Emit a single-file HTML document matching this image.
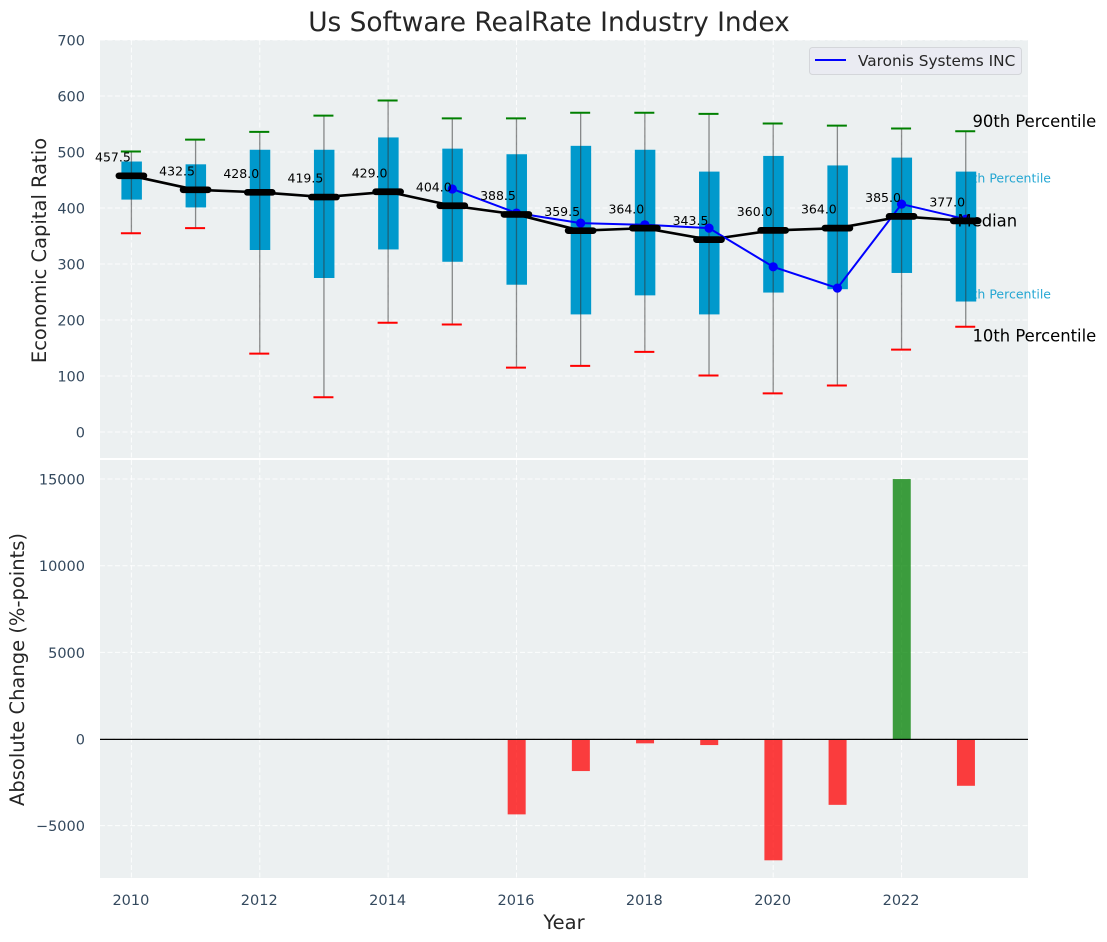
<!DOCTYPE html>
<html>
<head>
<meta charset="utf-8">
<style>
html,body{margin:0;padding:0;background:#fff;width:1107px;height:942px;overflow:hidden}
svg{display:block}
text{font-family:"DejaVu Sans","Liberation Sans",sans-serif}
</style>
</head>
<body>
<svg id="chart" width="1107" height="942" viewBox="0 0 1107 942" xmlns="http://www.w3.org/2000/svg">
<rect x="0" y="0" width="1107" height="942" fill="#ffffff"/>
<rect x="100" y="40" width="928" height="418" fill="#ecf0f1"/>
<rect x="100" y="460" width="928" height="418" fill="#ecf0f1"/>
<g id="grid"></g>
<g id="ticks"></g>
<g id="annotBack"></g>
<g id="boxes"></g>
<g id="lines"></g>
<g id="bars"></g>
<g id="annotFront"></g>
<line x1="100" x2="1028" y1="739.4" y2="739.4" stroke="#000" stroke-width="1.3"/>
<text x="549" y="31" font-size="26.4" text-anchor="middle" fill="#262626">Us Software RealRate Industry Index</text>
<text transform="translate(46 250.5) rotate(-90)" font-size="19.5" text-anchor="middle" fill="#262626">Economic Capital Ratio</text>
<text transform="translate(24 669.5) rotate(-90)" font-size="19.5" text-anchor="middle" fill="#262626">Absolute Change (%-points)</text>
<text x="564" y="929" font-size="19.5" text-anchor="middle" fill="#262626">Year</text>
<g>
<rect x="809.5" y="47.5" width="212" height="27" rx="3" fill="#eaeaf2" fill-opacity="0.9" stroke="#d4d6da" stroke-width="1"/>
<line x1="815" x2="846" y1="60" y2="60" stroke="#0000ff" stroke-width="2"/>
<text x="858" y="66" font-size="15.3" fill="#262626">Varonis Systems INC</text>
</g>
</svg>
<script>
const years = [2010,2011,2012,2013,2014,2015,2016,2017,2018,2019,2020,2021,2022,2023];
const whiskerHigh = [501,522,536,565,592,560,560,570,570,568,551,547,542,537];
const whiskerLow = [355,364,140,62,195,192,115,118,143,101,69,83,147,188];
const boxHigh = [483,478,504,504,526,506,496,511,504,465,493,476,490,465];
const boxLow = [415,401,325,275,326,304,263,210,244,210,249,255,284,233];
const medians = [457.5,432.5,428.0,419.5,429.0,404.0,388.5,359.5,364.0,343.5,360.0,364.0,385.0,377.0];
const companyYears = [2015,2016,2017,2018,2019,2020,2021,2022,2023];
const companyValues = [434,391,373,370,364,295,257,407,380];
const changeYears = [2016,2017,2018,2019,2020,2021,2022,2023];
const changeValues = [-4350,-1850,-250,-350,-7000,-3800,15000,-2700];
const xTickLabels = [2010,2012,2014,2016,2018,2020,2022];
const yTopTicks = [0,100,200,300,400,500,600,700];
const yBottomTicks = [-5000,0,5000,10000,15000];

const NS = 'http://www.w3.org/2000/svg';
const x = v => 131.4 + (v - 2010) * 64.18;
const yTop = v => 432 - v * 0.56;
const yBottom = v => 739 - v * 0.01733;

function make(parentId, tag, attrs, content) {
  const el = document.createElementNS(NS, tag);
  for (const k in attrs) el.setAttribute(k, attrs[k]);
  if (content !== undefined) el.textContent = content;
  document.getElementById(parentId).appendChild(el);
  return el;
}

const gridStyle = {stroke:'#ffffff','stroke-width':1,'stroke-dasharray':'5 2.5','stroke-opacity':0.85};
xTickLabels.forEach(t => {
  const a = make('grid','line',{x1:x(t),x2:x(t),y1:40,y2:458,...gridStyle});
  
  
  const b = make('grid','line',{x1:x(t),x2:x(t),y1:460,y2:878,...gridStyle});
  
  
  const l = make('ticks','text',{x:x(t)-0.5,y:905,'font-size':14.5,'text-anchor':'middle',fill:'#34495e'},String(t));
  
  
});
yTopTicks.forEach(t => {
  const g = make('grid','line',{x1:100,x2:1028,y1:yTop(t),y2:yTop(t),...gridStyle});
  
  
  const l = make('ticks','text',{x:85,y:yTop(t)+5.5,'font-size':14.5,'text-anchor':'end',fill:'#34495e'},String(t));
  
  
});
yBottomTicks.forEach(t => {
  const g = make('grid','line',{x1:100,x2:1028,y1:yBottom(t),y2:yBottom(t),...gridStyle});
  
  
  const l = make('ticks','text',{x:85,y:yBottom(t)+5.5,'font-size':14.5,'text-anchor':'end',fill:'#34495e'},String(t).replace('-','\u2212'));
  
  
});

const t75 = make('annotBack','text',{x:1051,y:182.5,'font-size':12.5,'text-anchor':'end',fill:'#0099cc','fill-opacity':0.85},'75th Percentile');


const t25 = make('annotBack','text',{x:1051,y:298.5,'font-size':12.5,'text-anchor':'end',fill:'#0099cc','fill-opacity':0.85},'25th Percentile');



years.forEach((yr,i) => {
  const cx = x(yr);
  const box = make('boxes','rect',{x:cx-10,y:yTop(boxHigh[i]),width:20.5,height:yTop(boxLow[i])-yTop(boxHigh[i]),fill:'#0099cc'});
  
  
  const w = make('boxes','line',{x1:cx,x2:cx,y1:yTop(whiskerHigh[i]),y2:yTop(whiskerLow[i]),stroke:'#333','stroke-opacity':0.55,'stroke-width':1.3});
  
  
  const hi = make('boxes','line',{x1:cx-10.5,x2:cx+9.5,y1:yTop(whiskerHigh[i]),y2:yTop(whiskerHigh[i]),stroke:'#008000','stroke-width':2});
  
  
  const lo = make('boxes','line',{x1:cx-10.5,x2:cx+9.5,y1:yTop(whiskerLow[i]),y2:yTop(whiskerLow[i]),stroke:'#ff0000','stroke-width':2});
  
  
});

const medianLine = make('lines','polyline',{points:years.map((yr,i)=>x(yr)+','+yTop(medians[i])).join(' '),fill:'none',stroke:'#000','stroke-width':2.6,'stroke-linejoin':'round'});



companyYears.forEach((yr,i) => {
  const m = make('lines','circle',{cx:x(yr),cy:yTop(companyValues[i]),r:4.6,fill:'#0000ff'});
  
  
});
const companyLine = make('lines','polyline',{points:companyYears.map((yr,i)=>x(yr)+','+yTop(companyValues[i])).join(' '),fill:'none',stroke:'#0000ff','stroke-width':2});



years.forEach((yr,i) => {
  const cx = x(yr), my = yTop(medians[i]);
  const m = make('lines','line',{x1:cx-12.5,x2:cx+12.5,y1:my,y2:my,stroke:'#000','stroke-width':6.7,'stroke-linecap':'round'});
  
  
  const t = make('lines','text',{x:cx-18.5,y:my-14.5,'font-size':12.5,'text-anchor':'middle',fill:'#000'},medians[i].toFixed(1));
  
  
});

changeYears.forEach((yr,i) => {
  const v = changeValues[i];
  const top = Math.min(yBottom(v), yBottom(0));
  const b = make('bars','rect',{x:x(yr)-8.8,y:top,width:18,height:Math.abs(yBottom(v)-yBottom(0)),fill:v>=0?'#008000':'#ff0000','fill-opacity':0.75});
  
  
});

const t90 = make('annotFront','text',{x:972.5,y:127,'font-size':16.4,fill:'#000'},'90th Percentile');


const tMed = make('annotFront','text',{x:957.5,y:226.5,'font-size':16.4,fill:'#000'},'Median');


const t10 = make('annotFront','text',{x:972.5,y:341.5,'font-size':16.4,fill:'#000'},'10th Percentile');


</script>
</body>
</html>
